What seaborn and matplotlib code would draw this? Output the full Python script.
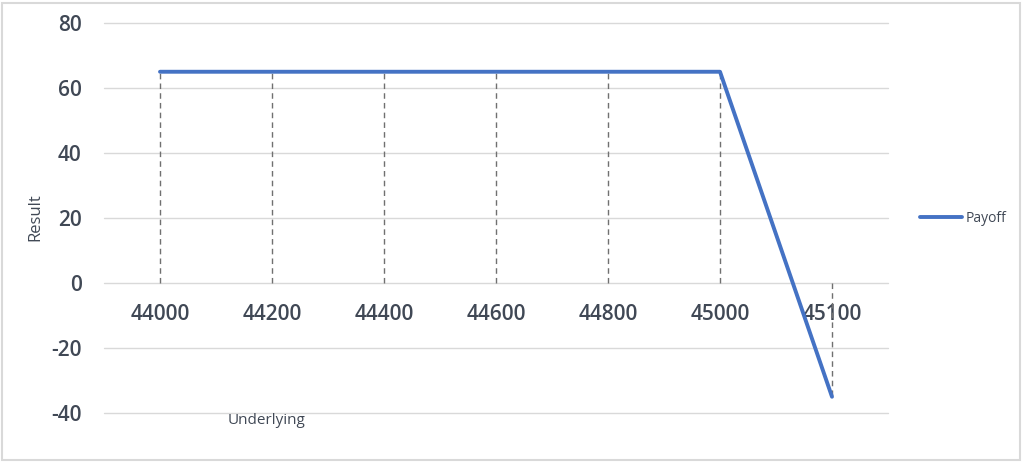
import matplotlib
matplotlib.use("Agg")
import matplotlib.pyplot as plt
import seaborn as sns
import pandas as pd
from matplotlib.patches import Rectangle

underlying = ["44000", "44200", "44400", "44600", "44800", "45000", "45100"]
payoff = [65, 65, 65, 65, 65, 65, -35]
y_ticks = [-40, -20, 0, 20, 40, 60, 80]

sns.set_theme(style="white")
plt.rcParams['font.family'] = ['Open Sans', 'DejaVu Sans']

df = pd.DataFrame({"pos": list(range(len(underlying))), "Payoff": payoff})

fig = plt.figure(figsize=(10.24, 4.62), dpi=100)
ax = fig.add_axes([104/1024, 49/462, 784/1024, 390/462])

text_col = "#404855"
grid_col = "#d9d9d9"

ax.spines['bottom'].set_position(('data', 0))
for s in ax.spines.values():
    s.set_visible(False)

for t in y_ticks:
    ax.axhline(t, color=grid_col, lw=1.0, zorder=0, clip_on=False)

ax.vlines(df["pos"], 0, df["Payoff"], colors="#707070", linestyles=(0, (4, 3)), lw=1.0, zorder=1)

sns.lineplot(data=df, x="pos", y="Payoff", ax=ax, color="#4472C4", lw=2.8, label="Payoff", zorder=3)

ax.set_xlim(-0.5, len(underlying) - 0.5)
ax.set_ylim(-40, 80)
ax.set_yticks(y_ticks)
ax.set_yticklabels([str(v) for v in y_ticks], fontsize=15, fontweight="semibold", color=text_col)
ax.set_xticks(df["pos"])
ax.set_xticklabels(underlying, fontsize=15, fontweight="semibold", color=text_col)
ax.tick_params(axis='x', length=0, pad=15)
ax.tick_params(axis='y', length=0, pad=16)
ax.set_xlabel("")
ax.set_ylabel("")

fig.text(35/1024, 1 - 217/462, "Result", rotation=90, ha="center", va="center", fontsize=12, color=text_col)
fig.text(267/1024, 1 - 420/462, "Underlying", ha="center", va="center", fontsize=11, color=text_col)

leg = ax.legend(loc="center left", bbox_to_anchor=(1.025, 0.5), frameon=False, fontsize=10,
                handlelength=3.0, handletextpad=0.3)
for t in leg.get_texts():
    t.set_color(text_col)

fig.patches.append(Rectangle((0.002, 0.004), 0.994, 0.99, transform=fig.transFigure,
                             fill=False, edgecolor="#d9d9d9", lw=1.5))

fig.savefig("out.png", dpi=100)
